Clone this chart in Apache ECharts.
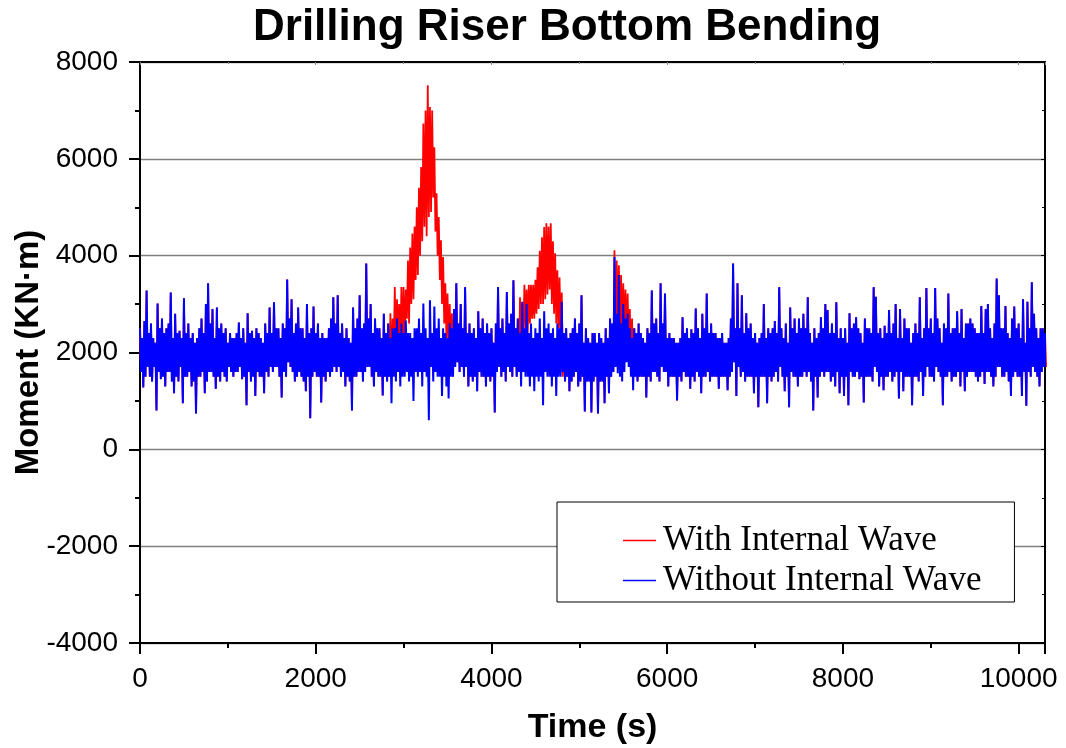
<!DOCTYPE html>
<html>
<head>
<meta charset="utf-8">
<script src="https://cdn.jsdelivr.net/npm/echarts@6/dist/echarts.min.js"></script>
<style>
  html, body { margin: 0; padding: 0; background: #fff; }
  #chart { width: 1066px; height: 748px; }
</style>
</head>
<body>
<div id="chart"></div>
<script>
// the record swings up and down every few seconds; it is kept as
// the upper and lower excursion of each 25 s slot (kN·m), 0 .. 10300 s
const step = 25;

// Without Internal Wave
const upper = [
  2500,2300,2650,3280,2400,2600,2300,2200,3010,2500,2700,2400,2500,2600,3240,2300,2800,2400,2450,2300,
  3120,2400,2600,2300,2400,2200,2300,2500,2700,2400,3000,3430,2600,2900,2300,2930,2500,2600,2400,2500,
  2200,2400,2300,2300,2400,2620,2300,2500,2200,2810,2400,2450,2300,2500,2400,2300,2200,2600,2400,2930,
  2400,3040,2500,2500,2300,2600,2500,3510,2700,3100,2400,2600,2930,2500,2500,2300,3000,2400,2500,2950,
  2400,2600,2300,2400,2300,2300,2500,2700,3140,2600,3180,2400,2600,2300,2500,2300,2200,2930,2500,2700,
  3180,2500,2600,3840,2700,3000,2400,2700,2500,2500,2300,2800,2400,2600,2300,2500,2500,2700,2400,2600,
  2400,2660,2400,2400,2300,2500,2500,2700,2400,3010,2500,2300,3080,2400,2950,2500,2700,2300,2500,2400,
  2300,2600,2500,2900,3430,2600,3000,2500,3350,2400,2600,2400,2500,2300,2850,2500,2700,2400,2600,2400,
  2500,2200,2600,3350,2500,2700,2400,3250,2600,2800,3490,2500,2700,2400,3050,2500,3000,2400,2600,2300,
  2500,2400,2700,2300,2850,2500,2600,2400,2500,2300,2600,2500,3050,2400,2500,2300,2400,2500,2700,2400,
  2600,3180,2200,2500,2300,2200,2400,2400,2200,2400,2300,2200,2500,2300,2700,2600,3970,2800,3600,2600,
  3000,2700,2800,2500,2300,2500,2400,2600,2400,2300,2200,2500,2400,3280,2600,2700,2400,3430,2600,3220,
  2300,2400,2300,2300,2200,2200,2300,2730,2400,2500,2300,2480,2400,2910,2500,2300,2800,2500,3220,2400,
  2600,2400,2400,2300,2300,2400,2200,2200,2300,2700,3840,2500,3430,2500,3180,2400,2810,2500,2600,2300,
  2400,2200,2300,2400,3000,2300,2500,2400,2500,2650,2400,3350,2500,2300,2600,2200,2930,2500,2700,2400,
  2700,2500,2800,2500,3140,2400,2200,2500,2300,2400,2730,2500,3000,2880,2400,2600,2400,3040,2300,2500,
  2300,2500,2200,2810,2500,2600,2730,2500,2400,2200,2700,2500,2500,2400,3350,3150,2400,2500,2300,2550,
  2400,2880,2400,2600,3000,2300,2900,2300,2700,2500,2500,2200,2400,2600,2400,3140,2300,2500,3330,2500,
  2700,2400,3330,2700,2500,2200,2600,2500,3220,2400,2500,2500,2850,2400,2900,2300,2600,2600,2700,2600,
  2500,2400,2400,2960,2400,2900,3000,2500,2300,2600,3530,3180,2500,2500,2960,2400,2300,2700,2950,2500,
  2600,2300,3100,2200,3050,2500,3450,2800,2500,2300,2500,2500,2400
];
const lower = [
  1600,1280,1500,1700,1500,1400,1700,800,1600,1450,1500,1300,1600,1600,1400,1160,1500,1400,1700,950,
  1500,1500,1600,1300,1400,740,1500,1500,1600,1160,1400,1600,1600,1500,1250,1500,1400,1600,1500,1400,
  1700,1600,1500,1600,1600,1700,1450,1500,910,1600,1400,1500,1100,1600,1500,1500,1160,1600,1500,1700,
  1600,1700,1700,1500,1070,1600,1500,1800,1700,1600,1400,1500,1600,1500,1400,1200,1500,640,1500,1600,
  1500,1500,970,1500,1400,1600,1500,1600,1700,1600,1700,1500,1600,1300,1500,1400,800,1500,1500,1600,
  1600,1400,1600,1700,1700,1500,1300,1600,1500,1500,1110,1500,1400,1500,950,1500,1400,1600,1300,1500,
  1500,1600,1400,1500,1000,1600,1500,1600,1300,1600,1500,600,1700,1400,1600,1500,1500,1100,1500,1300,
  1050,1500,1500,1700,1800,1600,1700,1500,1700,1300,1500,1400,1500,1200,1600,1500,1500,1300,1500,1400,
  1500,760,1600,1700,1500,1600,1400,1700,1600,1500,1700,1500,1600,1300,1600,1500,1500,1300,1500,1200,
  1500,1400,1500,910,1600,1500,1500,1300,1500,1100,1500,1500,1600,1400,1500,1200,1400,1500,1600,1300,
  1400,1500,780,1400,1400,760,1400,1500,740,1400,1400,950,1500,1160,1500,1600,1700,1570,1500,1400,
  1600,1800,1700,1500,1220,1500,1400,1500,1500,1500,1070,1500,1400,1600,1600,1500,1400,1700,1600,1600,
  1300,1500,1500,1500,1010,1500,1400,1600,1500,1500,1250,1500,1400,1600,1500,1160,1500,1500,1600,1400,
  1500,1500,1500,1250,1500,1500,1500,1220,1500,1600,1800,1100,1700,1500,1600,1400,1500,1500,1500,1160,
  1500,870,1500,1500,1500,950,1500,1400,1500,1600,1400,1700,1500,1200,1500,870,1600,1500,1500,1300,
  1500,1500,1600,1500,1600,1400,800,1500,1070,1500,1600,1500,1600,1600,1400,1500,1300,1600,1160,1500,
  1100,1500,910,1600,1500,1500,1600,1450,1500,970,1500,1500,1500,1400,1700,1600,1300,1500,1220,1500,
  1500,1600,1400,1500,1600,1050,1600,1200,1500,1500,1500,910,1500,1500,1400,1600,1100,1500,1700,1500,
  1500,1400,1700,1600,1500,910,1500,1500,1600,1400,1500,1500,1600,1300,1600,1200,1500,1600,1600,1600,
  1500,1400,1500,1600,1350,1600,1600,1500,1300,1500,1700,1700,1500,1500,1600,1400,1100,1500,1600,1500,
  1500,1100,1600,900,1600,1500,1700,1600,1500,1300,1600,1700,1700
];

// With Internal Wave: same record, different only inside the three wave passages
const bump1Start = 2850;
const bump1Upper = [2810,2700,3350,3100,3000,3350,3350,3300,3900,4170,4460,4600,5000,5400,5830,6730,7000,7520,7070,7000,6240,5290,4800,4320,3970,3430,3220,3000,2810];
const bump1Lower = [1500,2000,1800,2300,2000,2200,2100,2700,2600,3000,3100,3500,3600,4000,4300,4600,4400,4800,4900,5200,4500,4000,3500,3000,2600,2300,2100,2000,1500];
const bump2Start = 4325;
const bump2Upper = [3140,3000,3400,3300,3400,3400,3400,3500,3760,4100,4380,4590,4670,4600,4670,4300,4050,3700,3550,3240];
const bump2Lower = [1500,2400,2500,2400,2600,2700,2700,2800,2900,3000,3000,3100,3200,3300,3000,2800,2600,2500,2200,1500];
const bump3Start = 5400;
const bump3Upper = [4110,3900,3800,3600,3430,3300,3220,2900,2700];
const bump3Lower = [1700,2500,2400,2300,2300,2200,2000,1800,1600];

const waveUpper = upper.slice();
const waveLower = lower.slice();
[
  [bump1Start, bump1Upper, bump1Lower],
  [bump2Start, bump2Upper, bump2Lower],
  [bump3Start, bump3Upper, bump3Lower]
].forEach(function(b) {
  const i0 = b[0] / step;
  b[1].forEach(function(v, k) { waveUpper[i0 + k] = v; });
  b[2].forEach(function(v, k) { waveLower[i0 + k] = v; });
});

// upper excursion at the start of a slot, lower one half way through it
function track(up, lo) {
  const out = [];
  up.forEach(function(v, i) {
    out.push([i * step, v]);
    out.push([i * step + step / 2, lo[i]]);
  });
  return out;
}

const chart = echarts.init(document.getElementById('chart'), null, { renderer: 'canvas' });
const sans = 'Liberation Sans, Arial, sans-serif';

const option = {
  animation: false,
  backgroundColor: '#fff',
  title: {
    text: 'Drilling Riser Bottom Bending',
    left: 248,
    top: 1,
    textStyle: { fontFamily: sans, fontSize: 44, fontWeight: 'bold', color: '#000' }
  },
  grid: { left: 140, right: 21, top: 62, bottom: 105, containLabel: false, outerBoundsMode: 'none' },
  legend: {
    orient: 'vertical',
    left: 557,
    top: 502,
    padding: [21, 33, 4, 66],
    itemGap: 5,
    itemWidth: 33,
    itemHeight: 1.5,
    icon: 'rect',
    backgroundColor: '#fff',
    borderColor: '#000',
    borderWidth: 1,
    z: 10,
    textStyle: { fontFamily: 'Liberation Serif, Times New Roman, serif', fontSize: 35, color: '#000', padding: [0, 0, 0, 2] },
    data: ['With Internal Wave', 'Without Internal Wave']
  },
  xAxis: [{
    type: 'value',
    min: 0,
    max: 10300,
    interval: 2000,
    name: 'Time (s)',
    nameLocation: 'middle',
    nameGap: 68,
    nameTextStyle: { fontFamily: sans, fontSize: 34, fontWeight: 'bold', color: '#000' },
    axisLine: { onZero: false, lineStyle: { color: '#000', width: 2 } },
    axisTick: { show: true, inside: false, length: 11, lineStyle: { color: '#000', width: 2 } },
    minorTick: { show: true, splitNumber: 2, length: 5, lineStyle: { color: '#000', width: 2 } },
    axisLabel: {
      margin: 22, fontFamily: sans, fontSize: 28, color: '#000',
      formatter: function(v) { return v % 2000 === 0 ? String(v) : ''; }
    },
    splitLine: { show: false }
  }, {
    type: 'value',
    position: 'top',
    min: 0,
    max: 10300,
    interval: 2000,
    axisLine: { onZero: false, lineStyle: { color: '#000', width: 2 } },
    axisTick: { show: true, inside: true, length: 3, lineStyle: { color: '#888', width: 1 } },
    minorTick: { show: true, splitNumber: 2, length: 2, lineStyle: { color: '#888', width: 1 } },
    axisLabel: { show: false },
    splitLine: { show: false }
  }],
  yAxis: [{
    type: 'value',
    min: -4000,
    max: 8000,
    interval: 2000,
    name: 'Moment (KN·m)',
    nameLocation: 'middle',
    nameGap: 95,
    nameMoveOverlap: false,
    nameTextStyle: { fontFamily: sans, fontSize: 33, fontWeight: 'bold', color: '#000' },
    axisLine: { onZero: false, lineStyle: { color: '#000', width: 2 } },
    axisTick: { show: true, inside: false, length: 11, lineStyle: { color: '#000', width: 2 } },
    minorTick: { show: true, splitNumber: 2, length: 5, lineStyle: { color: '#000', width: 2 } },
    axisLabel: { margin: 22, fontFamily: sans, fontSize: 28, color: '#000', formatter: function(v) { return String(v); } },
    splitLine: { show: true, lineStyle: { color: '#808080', width: 1.3 } }
  }, {
    type: 'value',
    position: 'right',
    min: -4000,
    max: 8000,
    interval: 2000,
    axisLine: { onZero: false, lineStyle: { color: '#000', width: 2 } },
    axisTick: { show: true, inside: true, length: 4, lineStyle: { color: '#000', width: 1 } },
    minorTick: { show: true, splitNumber: 2, length: 3, lineStyle: { color: '#000', width: 1 } },
    axisLabel: { show: false },
    splitLine: { show: false }
  }],
  series: [{
    name: 'With Internal Wave',
    type: 'line',
    symbol: 'none',
    lineStyle: { color: '#ff0000', width: 1.8 },
    itemStyle: { color: '#ff0000' },
    data: track(waveUpper, waveLower),
    z: 2
  }, {
    name: 'Without Internal Wave',
    type: 'line',
    symbol: 'none',
    lineStyle: { color: '#0000ff', width: 2 },
    itemStyle: { color: '#0000ff' },
    data: track(upper, lower),
    z: 3
  }]
};

chart.setOption(option);
</script>
</body>
</html>
